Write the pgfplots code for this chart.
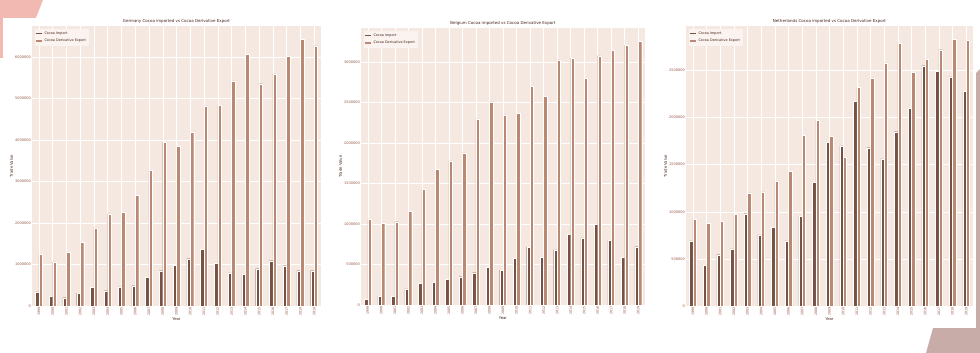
\documentclass[border=0pt]{standalone}
\usepackage{pgfplots}
\pgfplotsset{compat=1.18}
\usepackage{pgfplotstable}
\usepackage{fontspec}
\setmainfont{DejaVu Sans}

\definecolor{bgc}{RGB}{245,232,225}
\definecolor{impc}{RGB}{116,83,70}
\definecolor{expc}{RGB}{186,137,116}
\definecolor{tickc}{RGB}{150,85,65}
\definecolor{titc}{RGB}{70,35,25}
\definecolor{pinkdeco}{RGB}{242,185,178}
\definecolor{graydeco}{RGB}{200,172,168}

\pgfplotstableread{
x imp exp
0 340000 1240000
1 240000 1060000
2 200000 1290000
3 310000 1530000
4 450000 1880000
5 370000 2220000
6 460000 2250000
7 490000 2670000
8 690000 3260000
9 850000 3940000
10 980000 3840000
11 1140000 4180000
12 1360000 4820000
13 1030000 4830000
14 800000 5420000
15 760000 6060000
16 900000 5350000
17 1090000 5590000
18 970000 6010000
19 850000 6420000
20 850000 6260000
}\germany

\pgfplotstableread{
x imp exp
0 74000 1060000
1 110000 1010000
2 107000 1030000
3 200000 1160000
4 270000 1430000
5 280000 1680000
6 320000 1780000
7 350000 1880000
8 400000 2300000
9 465000 2510000
10 430000 2350000
11 580000 2370000
12 715000 2700000
13 590000 2580000
14 680000 3030000
15 870000 3050000
16 830000 2800000
17 1000000 3080000
18 800000 3150000
19 590000 3210000
20 720000 3260000
}\belgium

\pgfplotstableread{
x imp exp
0 690000 920000
1 430000 880000
2 545000 900000
3 605000 970000
4 980000 1200000
5 755000 1210000
6 835000 1320000
7 690000 1430000
8 950000 1810000
9 1310000 1970000
10 1740000 1800000
11 1700000 1580000
12 2170000 2320000
13 1680000 2420000
14 1560000 2580000
15 1850000 2790000
16 2100000 2480000
17 2550000 2620000
18 2490000 2720000
19 2430000 2830000
20 2280000 2820000
}\netherlands

\pgfplotsset{
  cocoa/.style={
    scale only axis,
    xmin=-0.5, xmax=20.5, ymin=0,
    axis background/.style={fill=bgc},
    axis line style={draw=none},
    grid=major,
    major grid style={white, line width=0.45pt},
    major tick length=0pt,
    xtick={0,...,20},
    xticklabels={1999,2000,2001,2002,2003,2004,2005,2006,2007,2008,2009,2010,2011,2012,2013,2014,2015,2016,2017,2018,2019},
    xticklabel style={rotate=90, anchor=east, font=\fontsize{3.3}{3.6}\selectfont, text=tickc, inner sep=1pt},
    yticklabel style={font=\fontsize{3.5}{4}\selectfont, text=tickc, inner sep=1pt,
      /pgf/number format/fixed, /pgf/number format/precision=0, /pgf/number format/1000 sep={}},
    /pgf/number format/assume math mode=true,
    scaled y ticks=false,
    every axis title shift=0pt,
    title style={font=\fontsize{4}{5}\selectfont, text=titc, at={(0.5,1)}, anchor=south, yshift=1pt, inner sep=1pt},
    xlabel={Year}, ylabel={Trade Value},
    xlabel style={font=\fontsize{3.8}{4.5}\selectfont, text=titc, inner sep=1pt},
    ylabel style={font=\fontsize{3.8}{4.5}\selectfont, text=titc, inner sep=1pt},
    legend style={at={(0.01,0.99)}, anchor=north west, draw=none, fill=bgc!50!white,
      font=\fontsize{3.4}{4}\selectfont, text=titc, inner sep=0.8pt, row sep=-0.8pt},
    legend cell align=left,
  },
  impbar/.style={ybar, bar width=0.25, bar shift=-0.125, fill=impc, draw=white, line width=0.2pt,
    legend image code/.code={\draw[line width=1.2pt, impc] (0pt,0pt) -- (5.5pt,0pt);}},
  expbar/.style={ybar, bar width=0.25, bar shift=0.125, fill=expc, draw=white, line width=0.2pt,
    legend image code/.code={\draw[line width=1.2pt, expc] (0pt,0pt) -- (5.5pt,0pt);}},
}

\begin{document}
\begin{tikzpicture}
\useasboundingbox (0pt,0pt) rectangle (980pt,353pt);
\fill[white] (0pt,0pt) rectangle (980pt,353pt);
% decorations
\fill[pinkdeco] (0pt,353pt) -- (43pt,353pt) -- (20pt,295pt) -- (0pt,295pt) -- cycle;
\fill[graydeco] (926pt,0pt) -- (980pt,0pt) -- (980pt,284pt) -- (976pt,280pt) -- (933pt,25pt) -- cycle;
\fill[white] (3pt,25pt) rectangle (976pt,335pt);

\begin{axis}[cocoa, at={(32pt,47pt)}, anchor=south west, width=289pt, height=280pt,
  ymax=6740000,
  title={Germany Cocoa imported vs Cocoa Derivative Export}]
\addplot[impbar] table[x=x,y=imp] {\germany};
\addplot[expbar] table[x=x,y=exp] {\germany};
\legend{Cocoa Import, Cocoa Derivative Export}
\end{axis}

\begin{axis}[cocoa, at={(361pt,48pt)}, anchor=south west, width=284pt, height=277pt,
  ymax=3423000, ytick={0,500000,1000000,1500000,2000000,2500000,3000000},
  title={Belgium Cocoa imported vs Cocoa Derivative Export}]
\addplot[impbar] table[x=x,y=imp] {\belgium};
\addplot[expbar] table[x=x,y=exp] {\belgium};
\legend{Cocoa Import, Cocoa Derivative Export}
\end{axis}

\begin{axis}[cocoa, at={(686pt,47pt)}, anchor=south west, width=287pt, height=280pt,
  ymax=2971000, ytick={0,500000,1000000,1500000,2000000,2500000},
  title={Netherlands Cocoa imported vs Cocoa Derivative Export}]
\addplot[impbar] table[x=x,y=imp] {\netherlands};
\addplot[expbar] table[x=x,y=exp] {\netherlands};
\legend{Cocoa Import, Cocoa Derivative Export}
\end{axis}
\end{tikzpicture}
\end{document}
